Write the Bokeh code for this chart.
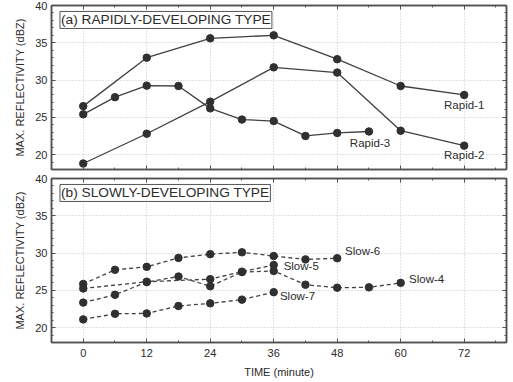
from bokeh.plotting import figure
from bokeh.models import FixedTicker, LinearAxis, Label, Range1d
from bokeh.layouts import column
from bokeh.embed import file_html
from bokeh.resources import INLINE
from bokeh.core.properties import value

# ---------------- data ----------------
time_ticks = [0, 12, 24, 36, 48, 60, 72]
time_minor = [-6, 6, 18, 30, 42, 54, 66, 78]
refl_ticks = [20, 25, 30, 35, 40]
refl_minor = [19, 21, 22, 23, 24, 26, 27, 28, 29, 31, 32, 33, 34, 36, 37, 38, 39]

rapid1_t = [0, 12, 24, 36, 48, 60, 72]
rapid1_v = [26.5, 33.0, 35.6, 36.0, 32.8, 29.2, 28.0]
rapid2_t = [0, 12, 24, 36, 48, 60, 72]
rapid2_v = [18.8, 22.8, 27.1, 31.7, 31.0, 23.2, 21.2]
rapid3_t = [0, 6, 12, 18, 24, 30, 36, 42, 48, 54]
rapid3_v = [25.4, 27.7, 29.25, 29.2, 26.2, 24.7, 24.5, 22.5, 22.9, 23.1]

slow4_t = [0, 6, 12, 18, 24, 30, 36, 42, 48, 54, 60]
slow4_v = [23.35, 24.4, 26.1, 26.85, 25.55, 27.45, 27.6, 25.75, 25.35, 25.4, 26.0]
slow5_t = [0, 12, 24, 30, 36]
slow5_v = [25.25, 26.15, 26.5, 27.5, 28.4]
slow6_t = [0, 6, 12, 18, 24, 30, 36, 42, 48]
slow6_v = [25.85, 27.75, 28.15, 29.35, 29.85, 30.1, 29.6, 29.15, 29.3]
slow7_t = [0, 6, 12, 18, 24, 30, 36]
slow7_v = [21.1, 21.85, 21.9, 22.9, 23.25, 23.75, 24.75]

rapid_names = ["Rapid-1", "Rapid-3", "Rapid-2"]
rapid_lx = [72, 54.2, 72]
rapid_ly = [26.6, 21.6, 19.9]
slow_names = ["Slow-6", "Slow-5", "Slow-4", "Slow-7"]
slow_lx = [52.8, 41.2, 64.9, 40.5]
slow_ly = [30.25, 28.3, 26.5, 24.3]

panel_titles = ["(a) RAPIDLY-DEVELOPING TYPE", "(b) SLOWLY-DEVELOPING TYPE"]
x_title = "TIME (minute)"
y_title = "MAX. REFLECTIVITY (dBZ)"

FONT = "Liberation Sans"
INK = "#2b2b2b"
FRAME = "#505050"


def style_axis(ax, labels=True, ticks=None, standoff=5):
    ax.axis_line_color = FRAME
    ax.axis_line_width = 1.5
    ax.major_tick_in = 4
    ax.major_tick_out = 0
    ax.minor_tick_in = 2
    ax.minor_tick_out = 0
    ax.major_tick_line_color = FRAME
    ax.minor_tick_line_color = FRAME
    ax.major_label_text_font = FONT
    ax.major_label_text_color = INK
    ax.major_label_text_font_size = "11px"
    if labels:
        ax.major_label_standoff = standoff
    else:
        ax.major_label_overrides = {t: "" for t in ticks}
        ax.major_label_standoff = 0


def make_fig(show_x, bottom_border):
    p = figure(frame_width=455, frame_height=164,
               x_range=Range1d(-6, 80), y_range=Range1d(18, 40),
               output_backend="svg", toolbar_location=None,
               min_border_left=10, min_border_right=2,
               min_border_top=6, min_border_bottom=bottom_border)
    p.background_fill_color = "white"
    p.border_fill_color = "white"
    p.outline_line_color = FRAME
    p.outline_line_width = 1.5

    xt = FixedTicker(ticks=time_ticks, minor_ticks=time_minor)
    yt = FixedTicker(ticks=refl_ticks, minor_ticks=refl_minor)
    p.xaxis.ticker = xt
    p.yaxis.ticker = yt
    style_axis(p.xaxis[0], labels=show_x, ticks=time_ticks, standoff=6)
    style_axis(p.yaxis[0], labels=True, standoff=4)
    p.yaxis.axis_label = y_title
    p.yaxis.axis_label_text_font = FONT
    p.yaxis.axis_label_text_font_size = "11px"
    p.yaxis.axis_label_text_font_style = "normal"
    p.yaxis.axis_label_text_color = INK
    p.yaxis.axis_label_standoff = 6
    if show_x:
        p.xaxis.axis_label = x_title
        p.xaxis.axis_label_text_font = FONT
        p.xaxis.axis_label_text_font_size = "11px"
        p.xaxis.axis_label_text_font_style = "normal"
        p.xaxis.axis_label_text_color = INK
        p.xaxis.axis_label_standoff = 6

    top = LinearAxis(ticker=FixedTicker(ticks=time_ticks, minor_ticks=time_minor))
    style_axis(top, labels=False, ticks=time_ticks)
    p.add_layout(top, "above")
    right = LinearAxis(ticker=FixedTicker(ticks=refl_ticks, minor_ticks=refl_minor))
    style_axis(right, labels=False, ticks=refl_ticks)
    p.add_layout(right, "right")

    p.xgrid.ticker = xt
    p.ygrid.ticker = yt
    for g in (p.xgrid, p.ygrid):
        g.grid_line_color = "#c4c4c4"
        g.grid_line_dash = "1 2"
        g.grid_line_width = 1
    return p


def add_series(p, t, v, dash):
    p.line(t, v, line_color="#404040", line_width=1.3, line_dash=dash)
    p.scatter(t, v, size=7.5, fill_color="#303030", line_color="#303030")


def add_title(p, text):
    p.add_layout(Label(x=-4.4, y=39.2, text=text, text_font=FONT,
                       text_font_size="13.7px", text_color=INK,
                       text_baseline="top", text_align="left",
                       border_line_color="#555555", border_line_width=1,
                       background_fill_color="white", padding=1))


p1 = make_fig(False, 3)
for t, v in [(rapid1_t, rapid1_v), (rapid2_t, rapid2_v), (rapid3_t, rapid3_v)]:
    add_series(p1, t, v, "solid")
p1.text(x=rapid_lx, y=rapid_ly, text=rapid_names, text_font=value(FONT),
        text_font_size="11.5px", text_color=INK, text_align="center",
        text_baseline="middle")
add_title(p1, panel_titles[0])

p2 = make_fig(True, 30)
for t, v in [(slow4_t, slow4_v), (slow5_t, slow5_v), (slow6_t, slow6_v), (slow7_t, slow7_v)]:
    add_series(p2, t, v, "4 3")
p2.text(x=slow_lx, y=slow_ly, text=slow_names, text_font=value(FONT),
        text_font_size="11.5px", text_color=INK, text_align="center",
        text_baseline="middle")
add_title(p2, panel_titles[1])

layout = column(p1, p2, spacing=0, styles={"margin-top": "-1px", "margin-left": "11px"})
open("out.html", "w").write(file_html(layout, INLINE))
